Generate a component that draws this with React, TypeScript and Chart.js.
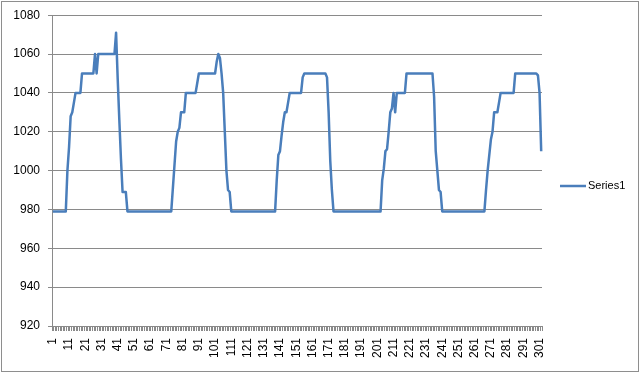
import React, { useEffect, useRef } from "react";
import { Chart, registerables } from "chart.js";

Chart.register(...registerables);

// Series values, split into consecutive segments
const segment1 = [
  979, 979, 979, 979, 979, 979, 979, 979, 979, 1000,
  1012, 1028, 1030, 1035, 1040, 1040, 1040, 1040, 1050, 1050,
  1050, 1050, 1050, 1050, 1050, 1050, 1060, 1050, 1060, 1060,
  1060, 1060, 1060, 1060, 1060, 1060, 1060, 1060, 1060, 1071,
  1047, 1026, 1006, 989, 989, 989,
];
const segment2 = [
  979, 979, 979, 979, 979, 979, 979, 979, 979, 979,
  979, 979, 979, 979, 979, 979, 979, 979, 979, 979,
  979, 979, 979, 979, 979, 979, 979, 979, 991, 1003,
  1015, 1020, 1022, 1030, 1030, 1030, 1040, 1040, 1040, 1040,
  1040, 1040, 1040, 1045, 1050, 1050, 1050, 1050, 1050, 1050,
  1050, 1050, 1050, 1050, 1050, 1056, 1060, 1058, 1050, 1040,
  1020, 1000, 990, 989,
];
const segment3 = [
  979, 979, 979, 979, 979, 979, 979, 979, 979, 979,
  979, 979, 979, 979, 979, 979, 979, 979, 979, 979,
  979, 979, 979, 979, 979, 979, 979, 979, 995, 1008,
  1010, 1018, 1025, 1030, 1030, 1035, 1040, 1040, 1040, 1040,
  1040, 1040, 1040, 1040, 1048, 1050, 1050, 1050, 1050, 1050,
  1050, 1050, 1050, 1050, 1050, 1050, 1050, 1050, 1050, 1048,
  1030, 1005, 990,
];
const segment4 = [
  979, 979, 979, 979, 979, 979, 979, 979, 979, 979,
  979, 979, 979, 979, 979, 979, 979, 979, 979, 979,
  979, 979, 979, 979, 979, 979, 979, 979, 979, 979,
  995, 1001, 1010, 1011, 1020, 1030, 1032, 1040, 1030, 1040,
  1040, 1040, 1040, 1040, 1040, 1050, 1050, 1050, 1050, 1050,
  1050, 1050, 1050, 1050, 1050, 1050, 1050, 1050, 1050, 1050,
  1050, 1050, 1038, 1010, 1000, 990, 989,
];
const segment5 = [
  979, 979, 979, 979, 979, 979, 979, 979, 979, 979,
  979, 979, 979, 979, 979, 979, 979, 979, 979, 979,
  979, 979, 979, 979, 979, 979, 979, 990, 1000, 1008,
  1016, 1020, 1030, 1030, 1030, 1035, 1040, 1040, 1040, 1040,
  1040, 1040, 1040, 1040, 1040, 1050, 1050, 1050, 1050, 1050,
  1050, 1050, 1050, 1050, 1050, 1050, 1050, 1050, 1050, 1049,
  1040, 1010,
];

const seriesValues = [...segment1, ...segment2, ...segment3, ...segment4, ...segment5];
const categories = seriesValues.map((_, i) => String(i + 1));
const seriesName = "Series1";
const yMin = 920;
const yMax = 1080;
const yStep = 20;
const labelEvery = 10;

const LINE_COLOR = "#4A7EBB";
const GRID_COLOR = "#8A8A8A";
const FONT = "'Liberation Sans', Arial, sans-serif";

const framePlugin = {
  id: "frame",
  afterDraw(chart: any) {
    const ctx = chart.ctx;
    ctx.save();
    ctx.strokeStyle = "#8E8E8E";
    ctx.lineWidth = 1;
    ctx.strokeRect(1.5, 1.5, 637, 370);
    ctx.restore();
  },
};

const legendPlugin = {
  id: "customLegend",
  afterDraw(chart: any) {
    const ctx = chart.ctx;
    const area = chart.chartArea;
    const y = Math.round((area.top + area.bottom) / 2) + 15;
    ctx.save();
    ctx.strokeStyle = LINE_COLOR;
    ctx.lineWidth = 2.5;
    ctx.beginPath();
    ctx.moveTo(560, y);
    ctx.lineTo(586, y);
    ctx.stroke();
    ctx.fillStyle = "#000";
    ctx.font = `11px ${FONT}`;
    ctx.textBaseline = "middle";
    ctx.textAlign = "left";
    ctx.fillText(chart.data.datasets[0].label, 588, y);
    ctx.restore();
  },
};

export default function App() {
  const ref = useRef<HTMLCanvasElement>(null);

  useEffect(() => {
    if (!ref.current) return;
    const chart = new Chart(ref.current, {
      type: "line",
      data: {
        labels: categories,
        datasets: [
          {
            label: seriesName,
            data: seriesValues,
            borderColor: LINE_COLOR,
            backgroundColor: LINE_COLOR,
            borderWidth: 2.5,
            pointRadius: 0,
            tension: 0,
            fill: false,
            borderJoinStyle: "round",
          },
        ],
      },
      options: {
        responsive: false,
        animation: false,
        devicePixelRatio: 1,
        layout: { padding: { top: 15, right: 98, left: 0, bottom: 0 } },
        plugins: {
          legend: { display: false },
          tooltip: { enabled: false },
        },
        scales: {
          x: {
            type: "category",
            offset: true,
            grid: {
              display: true,
              drawOnChartArea: false,
              drawTicks: true,
              tickLength: 5,
              color: GRID_COLOR,
              offset: true,
            },
            border: { display: true, color: GRID_COLOR, width: 1 },
            ticks: {
              autoSkip: false,
              minRotation: 90,
              maxRotation: 90,
              padding: 7,
              color: "#000",
              font: { family: FONT, size: 12 },
              callback: (_v: any, i: number) => (i % labelEvery === 0 ? categories[i] : ""),
            },
            afterFit: (s: any) => {
              s.height = 48;
            },
          },
          y: {
            min: yMin,
            max: yMax,
            ticks: {
              stepSize: yStep,
              padding: 8,
              color: "#000",
              font: { family: FONT, size: 12 },
              callback: (v: any) => String(v),
            },
            grid: { color: GRID_COLOR, tickLength: 4 },
            border: { display: true, color: GRID_COLOR, width: 1 },
            afterFit: (s: any) => {
              s.width = 52;
            },
          },
        },
      } as any,
      plugins: [framePlugin, legendPlugin],
    });
    return () => chart.destroy();
  }, []);

  return (
    <div style={{ position: "absolute", left: 0, top: 0, width: 640, height: 374, background: "#fff" }}>
      <canvas ref={ref} width={640} height={374} style={{ width: 640, height: 374, display: "block" }} />
    </div>
  );
}
